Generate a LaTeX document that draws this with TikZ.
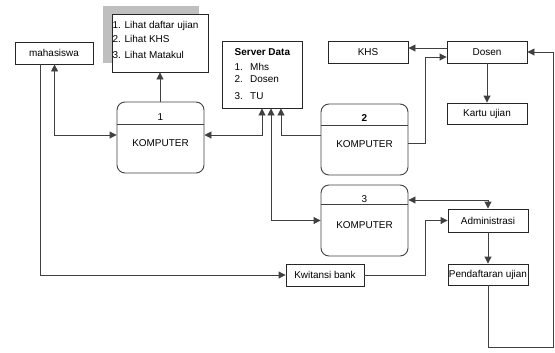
\documentclass[tikz,border=0pt]{standalone}
\usepackage{fontspec}
\setmainfont{Liberation Sans}
\usetikzlibrary{arrows.meta,calc}
\begin{document}
\begin{tikzpicture}[x=1bp,y=-1bp,
  font=\fontsize{10}{12}\selectfont,
  box/.style={draw=black!85,line width=0.9bp,minimum height=22bp,minimum width=80bp,inner sep=0pt},
  proc/.style={draw=black!75,line width=0.9bp,rounded corners=8bp,minimum width=87bp,minimum height=71bp,inner sep=0pt},
  conn/.style={draw=black!75,line width=0.9bp},
  arr/.style={conn,-{Triangle[width=7bp,length=7bp]}},
  arrb/.style={conn,{Triangle[width=7bp,length=7bp]}-{Triangle[width=7bp,length=7bp]}}]
\useasboundingbox (0,0) rectangle (555,352);
% shadow of list
\fill[black!25] (103,6) rectangle (199,63);
% nodes
\node[box,minimum width=78bp] (m) at (54,53) {mahasiswa};
\node[box,fill=white,minimum width=96bp,minimum height=58bp] (list) at (160,43) {};
\node[anchor=west,inner sep=0pt] (l1) at (112.5,25.5) {1. Lihat daftar ujian};
\node[anchor=west,inner sep=0pt] (l2) at (112.5,38.5) {2. Lihat KHS};
\node[anchor=west,inner sep=0pt] (l3) at (112.5,54.5) {3. Lihat Matakul};
\node[box,minimum height=67bp] (server) at (262,74.5) {};
\node[anchor=west,inner sep=0pt,font=\fontsize{10}{12}\selectfont\bfseries] (s0) at (234.5,52.5) {Server Data};
\node[anchor=west,inner sep=0pt] (s1) at (234.5,67) {1.};
\node[anchor=west,inner sep=0pt] (s1b) at (250,67) {Mhs};
\node[anchor=west,inner sep=0pt] (s2) at (234.5,79.5) {2.};
\node[anchor=west,inner sep=0pt] (s2b) at (250,79.5) {Dosen};
\node[anchor=west,inner sep=0pt] (s3) at (234.5,96) {3.};
\node[anchor=west,inner sep=0pt] (s3b) at (250,96) {TU};
\node[box] (khs) at (368,52) {KHS};
\node[box] (d) at (487,52) {Dosen};
\node[box,minimum height=21bp] (kartu) at (487,113.5) {Kartu ujian};
\node[box,minimum height=23bp] (adm) at (488,220.5) {Administrasi};
\node[box,minimum width=78bp] (kw) at (325,275) {Kwitansi bank};
\node[box,minimum height=21bp] (pd) at (488,274.5) {Pendaftaran ujian};
% processes
\node[proc] (k1) at (160.5,137.5) {};
\draw[conn] (k1.west |- 0,124) -- (k1.east |- 0,124);
\node (k1n) at (160.5,117) {1};
\node (k1t) at (160.5,143) {KOMPUTER};
\node[proc] (k2) at (364.5,139.5) {};
\draw[conn] (k2.west |- 0,125) -- (k2.east |- 0,125);
\node[font=\fontsize{10}{12}\selectfont\bfseries] (k2n) at (364.5,118) {2};
\node (k2t) at (364.5,144) {KOMPUTER};
\node[proc] (k3) at (364.5,220.5) {};
\draw[conn] (k3.west |- 0,204) -- (k3.east |- 0,204);
\node (k3n) at (364.5,199) {3};
\node (k3t) at (364.5,225) {KOMPUTER};
% connectors
\draw[arr] (k1.north -| list.south) -- (list.south);
\draw[arrb] ($(m.south west)+(40,0)$) |- ($(k1.west)+(0,-2.5)$);
\draw[arr] ($(m.south west)+(26,0)$) |- (kw.west);
\draw[arrb] ($(k1.east)+(0,-2.5)$) -| (server.south);
\draw[arrb] ($(server.south)+(9,0)$) |- (k3.west);
\draw[arr] ($(k2.west)+(0,-4.5)$) -| ($(server.south)+(19,0)$);
\draw[arr] ($(k2.east)+(0,3.5)$) -- ++(17,0) |- ($(d.west)+(0,5)$);
\draw[arr] ($(d.west)+(0,-4)$) -- ($(khs.east)+(0,-4)$);
\draw[arr] (d.south) -- (kartu.north);
\draw[arrb] ($(k3.east)+(0,-20.5)$) -| (adm.north);
\draw[arr] (kw.east) -- ++(61,0) |- (adm.west);
\draw[arr] (adm.south) -- (pd.north);
\coordinate (c1) at (553,347);
\draw[arr] (pd.south) |- (c1) |- (d.east);
\end{tikzpicture}
\end{document}
